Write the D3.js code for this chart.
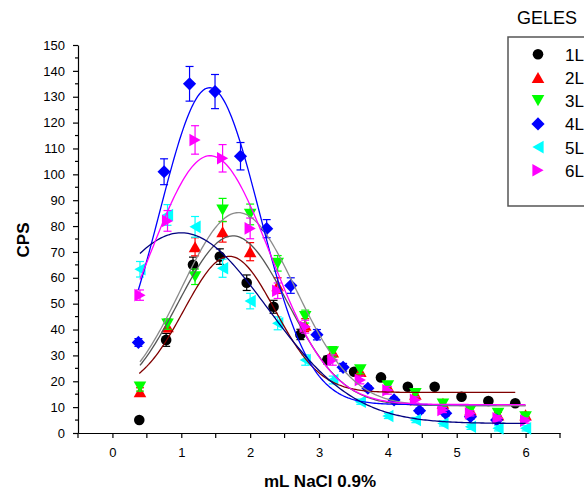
<!DOCTYPE html>
<html>
<head>
<meta charset="utf-8">
<script src="https://cdn.jsdelivr.net/npm/d3@7"></script>
<style>
  html, body { margin: 0; padding: 0; background: #fff; overflow: hidden; }
  svg { display: block; font-family: Arial, "Liberation Sans", sans-serif; }
</style>
</head>
<body>
<svg id="chart" width="584" height="494"></svg>
<script>
// Fraction volumes (mL) for each gel series
const xBlack = [0.39, 0.78, 1.17, 1.56, 1.95, 2.34, 2.73, 3.12, 3.51, 3.90, 4.29, 4.68, 5.07, 5.46, 5.85];
const xStd   = [0.4, 0.8, 1.2, 1.6, 2.0, 2.4, 2.8, 3.2, 3.6, 4.0, 4.4, 4.8, 5.2, 5.6, 6.0];
const xBlue  = [0.377, 0.75, 1.12, 1.49, 1.86, 2.24, 2.59, 2.97, 3.35, 3.71, 4.09, 4.46, 4.84, 5.20, 5.58];

// Counts per second for each series
const cps1L = [5.0, 36, 65, 68.2, 58.1, 48.8, 38.1, 28.2, 23.7, 21.5, 17.9, 17.9, 14.0, 12.4, 11.5];
const cps2L = [16, 41.1, 72, 77.8, 70.1, 57, 41.7, 31.4, 23.8, 18, 15, 11.5, 8.9, 7, 7.0];
const cps3L = [17.7, 42.1, 60.4, 86.2, 84.5, 65.6, 45, 31.4, 24.4, 18.2, 15.2, 11.2, 8.9, 7.6, 6.2];
const cps4L = [35, 101, 135, 132, 107, 79, 57, 38, 25.4, 17.3, 12.8, 8.6, 7.6, 6.3, 5.0];
const cps5L = [63.3, 84.3, 79.7, 63.7, 51, 42.4, 28.2, 20.5, 12.1, 6.6, 5.0, 3.7, 2.4, 1.8, 1.8];
const cps6L = [53.3, 82, 113.3, 106.2, 79.1, 55, 41.1, 28.2, 20.5, 16.5, 12.8, 8.9, 7.6, 5.7, 4.8];

// Standard deviations
const err1L = [0.5, 2.5, 3, 3, 3, 2.5, 2, 1.5, 1, 0.8, 0.8, 0.8, 0.6, 0.6, 0.6];
const err2L = [1.5, 2, 3.5, 4, 3.5, 3, 2.5, 2, 1.5, 1.5, 1.2, 1, 1, 1, 1];
const err3L = [1.5, 2, 3, 4.5, 4, 3, 2.5, 2, 1.5, 1.5, 1.2, 1, 1, 1, 1];
const err4L = [1.5, 5, 6.7, 6.6, 5.3, 3.5, 3, 2, 1.5, 1, 1, 1, 1, 1, 1];
const err5L = [3, 4, 4, 3.5, 3, 2.5, 2, 1.5, 1, 1, 1, 1, 1, 1, 1];
const err6L = [2, 4, 5.5, 5.3, 4, 3, 2.5, 2, 1.5, 1.5, 1.2, 1, 1, 1, 1];

// Gaussian fit parameters: y = y0 + A*exp(-2*((x-xc)/w)^2)
const fitY0 = [15.7, 10.6, 10.6, 11, 3.7, 11];
const fitA  = [52.6, 65.6, 74.6, 122.5, 73.7, 96.2];
const fitXc = [1.70, 1.75, 1.83, 1.41, 1.00, 1.42];
const fitW  = [1.32, 1.59, 1.66, 1.45, 2.50, 1.74];

const seriesNames = ["1L", "2L", "3L", "4L", "5L", "6L"];
const xTickLabels = [0, 1, 2, 3, 4, 5, 6];
const yTickLabels = [0, 10, 20, 30, 40, 50, 60, 70, 80, 90, 100, 110, 120, 130, 140, 150];

const markerColors = ["#000000", "#ff0000", "#00ff00", "#0000ff", "#00ffff", "#ff00ff"];
const fitColors    = ["#800000", "#555555", "#8c8c8c", "#0000ff", "#000080", "#ff00ff"];
const shapes       = ["circle", "up", "down", "diamond", "left", "right"];

const xsAll  = [xBlack, xStd, xStd, xBlue, xStd, xStd];
const ysAll  = [cps1L, cps2L, cps3L, cps4L, cps5L, cps6L];
const errAll = [err1L, err2L, err3L, err4L, err5L, err6L];

const svg = d3.select("#chart");
const x = d3.scaleLinear().domain([-0.5, 6.5]).range([78, 560]);
const y = d3.scaleLinear().domain([0, 150]).range([433, 45]);

// Marker path for a given shape centred at origin
function markerPath(shape) {
  const p = d3.path();
  if (shape === "circle") {
    p.arc(0, 0, 5.3, 0, 2 * Math.PI);
  } else if (shape === "diamond") {
    p.moveTo(0, -6.6); p.lineTo(6.6, 0); p.lineTo(0, 6.6); p.lineTo(-6.6, 0);
  } else {
    const b = 6.3, h = 5.6;
    const pts = {
      up:    [[0, -h], [b, h], [-b, h]],
      down:  [[0, h], [b, -h], [-b, -h]],
      left:  [[-h, 0], [h, -b], [h, b]],
      right: [[h, 0], [-h, -b], [-h, b]]
    }[shape];
    p.moveTo(pts[0][0], pts[0][1]);
    p.lineTo(pts[1][0], pts[1][1]);
    p.lineTo(pts[2][0], pts[2][1]);
  }
  p.closePath();
  return p.toString();
}

// Axes
const yAxisMajor = d3.axisLeft(y).tickValues(yTickLabels).tickSize(5).tickSizeOuter(0).tickPadding(8);
const yMinor = d3.range(5, 150, 10);
const gy = svg.append("g").attr("transform", `translate(${x(-0.5)},0)`).call(yAxisMajor);
gy.selectAll("text").attr("font-size", 13).attr("fill", "#000").attr("font-family", "Arial, 'Liberation Sans', sans-serif");
gy.append("g").selectAll("line").data(yMinor).join("line")
  .attr("x1", 0).attr("x2", -3).attr("y1", d => y(d)).attr("y2", d => y(d))
  .attr("stroke", "#000").attr("stroke-width", 1.2);

const xAxisMajor = d3.axisBottom(x).tickValues(xTickLabels).tickSize(5).tickSizeOuter(0).tickPadding(10).tickFormat(d3.format("d"));
const xMinor = d3.range(-0.5, 7, 1);
const gx = svg.append("g").attr("transform", `translate(0,${y(0)})`).call(xAxisMajor);
gx.selectAll("text").attr("font-size", 13).attr("fill", "#000").attr("font-family", "Arial, 'Liberation Sans', sans-serif");
gx.append("g").selectAll("line").data(xMinor).join("line")
  .attr("y1", 0).attr("y2", 5).attr("x1", d => x(d)).attr("x2", d => x(d))
  .attr("stroke", "#000").attr("stroke-width", 1.2);

svg.selectAll(".domain, .tick line").attr("stroke", "#000").attr("stroke-width", 1.2);

// Axis titles
svg.append("text")
  .attr("x", 320).attr("y", 487).attr("text-anchor", "middle")
  .attr("font-size", 17).attr("font-weight", "bold").text("mL NaCl 0.9%");
svg.append("text")
  .attr("transform", "translate(29,240) rotate(-90)").attr("text-anchor", "middle")
  .attr("font-size", 17).attr("font-weight", "bold").text("CPS");

// Error bars and markers
const plot = svg.append("g");
seriesNames.forEach((name, i) => {
  const pts = xsAll[i].map((xv, j) => ({ x: xv, y: ysAll[i][j], e: errAll[i][j] }));
  const g = plot.append("g");
  const eb = g.selectAll("g.eb").data(pts).join("g").attr("class", "eb")
    .attr("stroke", markerColors[i]).attr("stroke-width", 1.2);
  eb.append("line")
    .attr("x1", d => x(d.x)).attr("x2", d => x(d.x))
    .attr("y1", d => y(d.y + d.e)).attr("y2", d => y(d.y - d.e));
  eb.append("line")
    .attr("x1", d => x(d.x) - 4).attr("x2", d => x(d.x) + 4)
    .attr("y1", d => y(d.y + d.e)).attr("y2", d => y(d.y + d.e));
  eb.append("line")
    .attr("x1", d => x(d.x) - 4).attr("x2", d => x(d.x) + 4)
    .attr("y1", d => y(d.y - d.e)).attr("y2", d => y(d.y - d.e));
  g.selectAll("path").data(pts).join("path")
    .attr("d", markerPath(shapes[i]))
    .attr("transform", d => `translate(${x(d.x)},${y(d.y)})`)
    .attr("fill", markerColors[i]);
});

// Fitted curves
const line = d3.line().x(d => x(d[0])).y(d => y(d[1]));
seriesNames.forEach((name, i) => {
  const xv = xsAll[i];
  const x0 = xv[0], x1 = xv[xv.length - 1];
  const gauss = t => fitY0[i] + fitA[i] * Math.exp(-2 * Math.pow((t - fitXc[i]) / fitW[i], 2));
  const samples = d3.range(0, 201).map(k => {
    const t = x0 + (x1 - x0) * k / 200;
    return [t, gauss(t)];
  });
  svg.append("path").datum(samples).attr("d", line)
    .attr("fill", "none").attr("stroke", fitColors[i]).attr("stroke-width", 1.3);
});

// Legend
svg.append("text").attr("x", 517).attr("y", 24).attr("font-size", 18).text("GELES");
svg.append("rect").attr("x", 508).attr("y", 37).attr("width", 120).attr("height", 169)
  .attr("fill", "#fff").attr("stroke", "#555").attr("stroke-width", 1.5);
seriesNames.forEach((name, i) => {
  const cy = 54.3 + i * 23.2;
  svg.append("path").attr("d", markerPath(shapes[i]))
    .attr("transform", `translate(538,${cy})`).attr("fill", markerColors[i]);
  svg.append("text").attr("x", 565).attr("y", cy + 6.5).attr("font-size", 17).text(name);
});
</script>
</body>
</html>
